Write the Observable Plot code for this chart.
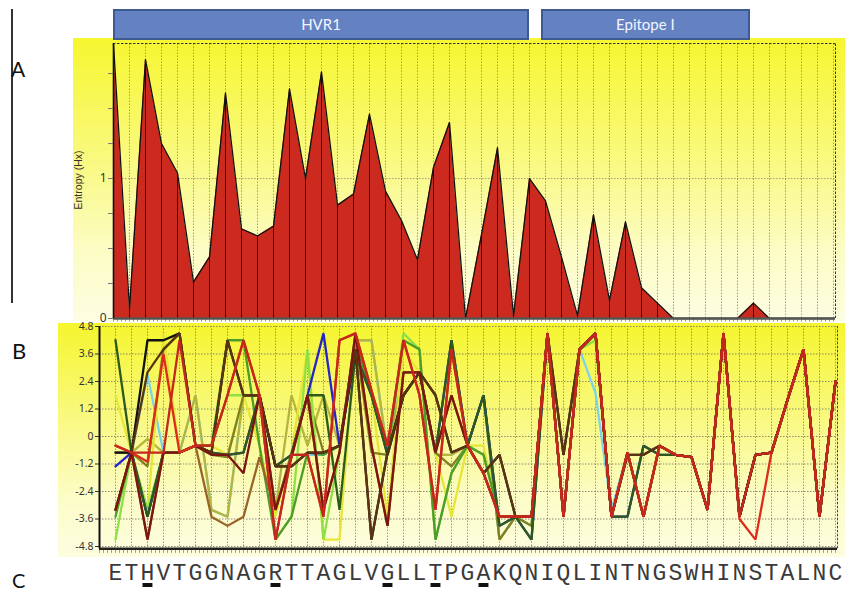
<!DOCTYPE html>
<html><head><meta charset="utf-8">
<script src="https://cdn.jsdelivr.net/npm/d3@7"></script>
<script src="https://cdn.jsdelivr.net/npm/@observablehq/plot@0.6"></script>
<style>
body{margin:0;background:#fff;}
#wrap{position:relative;width:845px;height:594px;overflow:hidden;background:#fff;font-family:"Liberation Sans",Arial,sans-serif;}
.abs{position:absolute;}
.holder svg{display:block;background:transparent;}
.box{position:absolute;top:9px;height:31px;box-sizing:border-box;background:#6482c2;border:2px solid #3e5a92;color:#f2f5ff;font:15px Lato,"Open Sans",sans-serif;text-align:center;line-height:27px;}
.lbl{position:absolute;font-family:Lato,"Open Sans",sans-serif;color:#111;}
</style></head><body>
<div id="wrap">
  <div class="abs" style="left:73px;top:38px;width:772px;height:283px;background:linear-gradient(to bottom,#f6f630 0%,#f9f97a 40%,#fcfcc4 75%,#fdfde2 100%);"></div>
  <div class="abs" style="left:58px;top:323px;width:787px;height:234px;background:linear-gradient(to bottom,#f5f52e 0%,#f9f980 40%,#fcfcc8 75%,#fdfde0 100%);"></div>
  <div class="abs" style="left:11px;top:9px;width:1.5px;height:294px;background:#333;"></div>
  <div class="lbl" style="left:11px;top:56px;font-size:21px;">A</div>
  <div class="lbl" style="left:12px;top:337px;font-size:22px;">B</div>
  <div class="lbl" style="left:12px;top:568px;font-size:20px;">C</div>
  <div class="abs" style="left:38px;top:174px;width:80px;height:12px;line-height:12px;font-size:10.5px;color:#333;text-align:center;transform:rotate(-90deg);white-space:nowrap;">Entropy (Hx)</div>
  <div id="plotA" class="abs holder" style="left:73px;top:0px;"></div>
  <div id="plotB" class="abs holder" style="left:0px;top:320px;"></div>
  <div id="plotC" class="abs holder" style="left:0px;top:556px;"></div>
</div>
<script>
// ---------- data ----------
const residues = ["E","T","H","V","T","G","G","N","A","G","R","T","T","A","G","L","V","G","L","L","T","P","G","A","K","Q","N","I","Q","L","I","N","T","N","G","S","W","H","I","N","S","T","A","L","N","C"];
const entropy = [1.96,0.07,1.85,1.25,1.04,0.26,0.44,1.61,0.64,0.59,0.66,1.64,1.0,1.76,0.81,0.89,1.46,0.91,0.70,0.42,1.08,1.40,0.0,0.60,1.22,0.02,1.0,0.84,0.44,0.02,0.74,0.13,0.69,0.22,0.11,0,0,0,0,0,0.11,0,0,0,0,0];
const underlinedPositions = [2,10,17,20,23];
const regionLabels = ["HVR1","Epitope I"];
const regionStart = [0, 26.75];
const regionEnd = [26, 39.8];
const yTicksA = [0, 1];
const yMinorTicksA = [0,0.25,0.5,0.75,1,1.25,1.5,1.75];
const yTicksB = [-4.8,-3.6,-2.4,-1.2,0,1.2,2.4,3.6,4.8];
const yTickLabelsB = ["-4.8","-3.6","-2.4","-1.2","0","1.2","2.4","3.6","4.8"];

const hydroKhaki = [-0.7,-0.7,-0.1,-0.7,-0.7,1.8,-3.2,-3.5,1.8,1.8,-3.2,1.8,-0.4,1.8,-0.4,4.2,4.2,-0.7,2.8,2.8,-0.8,-0.8,-0.4,1.8,-4.5,-3.5,-3.9,4.5,-3.5,3.8,4.5,-3.5,-0.7,-3.5,-0.4,-0.8,-0.9,-3.2,4.5,-3.5,-0.8,-0.7,1.6,3.8,-3.5,2.4];
const hydroCyan = [-0.7,-0.7,2.7,-0.7,-0.7,1.8,-3.2,-3.5,1.8,1.8,-3.2,-0.8,-0.8,-0.8,-0.4,4.2,4.2,-0.7,2.8,2.8,-0.8,-0.8,-0.4,1.8,-4.5,-3.5,-3.9,4.5,-3.5,3.8,1.9,-3.2,-0.7,-3.5,-0.4,-0.8,-0.9,-3.2,4.5,-3.5,-0.8,-0.7,1.6,3.8,-3.5,2.4];
const hydroYellow = [1.8,-0.7,-3.2,4.5,-0.7,-0.4,-0.4,-0.8,1.8,-0.4,-3.5,-0.7,3.8,-4.5,-4.5,4.2,1.8,-3.5,3.8,2.8,-0.7,-3.5,-0.4,-0.4,-3.5,-3.5,-3.5,4.5,-3.5,3.8,4.5,-3.5,-0.7,-3.5,-0.4,-0.8,-0.9,-3.2,4.5,-3.5,-0.8,-0.7,1.6,3.8,-3.5,2.4];
const hydroOlive = [-0.7,-0.7,-1.3,3.8,4.5,-0.4,-0.8,-0.9,1.8,1.8,-3.2,-0.7,1.8,-0.7,-0.4,4.2,-0.7,-0.8,1.8,2.8,-0.7,-1.3,-0.4,1.8,-4.5,-3.5,-3.9,4.5,-3.5,3.8,4.5,-3.5,-0.7,-3.5,-0.4,-0.8,-0.9,-3.2,4.5,-3.5,-0.8,-0.7,1.6,3.8,-3.5,2.4];
const hydroLightGreen = [-4.5,-0.7,-3.2,-0.7,-0.7,-0.4,-0.4,1.8,1.8,1.8,-4.5,-3.5,3.8,-4.5,-0.7,4.2,1.8,-0.8,4.5,3.8,-4.5,-1.6,-0.4,-0.8,-3.5,-3.5,-3.5,4.5,-3.5,3.8,4.2,-3.5,-0.7,-3.5,-0.4,-0.8,-0.9,-3.2,4.5,-3.5,-0.8,-0.7,1.6,3.8,-3.5,2.4];
const hydroGreen = [-3.5,-0.7,-3.5,-0.7,-0.7,-0.4,-0.4,4.2,4.2,-0.4,-4.5,-3.5,-0.7,-0.8,-0.4,4.2,1.8,-0.7,4.2,3.8,-4.5,-1.6,-0.4,-0.8,-3.5,-3.5,-3.5,4.5,-3.5,3.8,4.5,-3.5,-0.7,-3.5,-0.4,-0.8,-0.9,-3.2,4.5,-3.5,-0.8,-0.7,1.6,3.8,-3.5,2.4];
const hydroBlue = [-1.3,-0.7,-3.5,-0.7,-0.7,-0.4,-0.7,-0.8,-0.7,1.8,-1.3,-0.8,1.8,4.5,-0.4,3.6,1.8,-0.8,1.8,2.8,-0.7,4.2,-0.4,1.8,-3.9,-3.5,-4.5,4.5,-3.5,3.8,4.5,-3.5,-3.5,-0.4,-0.8,-0.8,-0.9,-3.2,4.5,-3.5,-0.8,-0.7,1.6,3.8,-3.5,2.4];
const hydroDarkGreen = [4.2,-0.7,-3.5,-0.7,-0.7,-0.4,-0.7,-0.8,-0.7,1.8,-1.3,-0.8,1.8,1.8,-3.2,3.6,1.8,-0.8,1.8,2.8,-0.7,4.2,-0.4,1.8,-3.9,-3.5,-4.5,4.5,-3.5,3.8,4.5,-3.5,-3.5,-0.4,-0.8,-0.8,-0.9,-3.2,4.5,-3.5,-0.8,-0.7,1.6,3.8,-3.5,2.4];
const hydroBrown = [-3.2,-0.7,-4.5,-0.7,-0.7,-0.4,-3.5,-3.9,-3.5,-0.9,-3.2,-0.9,1.8,-3.2,-0.7,4.5,-0.4,-3.9,2.8,2.8,-0.7,1.8,-0.4,-1.6,-3.5,-3.5,-3.5,4.5,-3.5,3.8,4.5,-3.5,-0.7,-3.5,-0.4,-0.8,-0.9,-3.2,4.5,-3.5,-0.8,-0.7,1.6,3.8,-3.5,2.4];
const hydroBlack = [-0.7,-0.7,4.2,4.2,4.5,-0.4,-0.7,4.2,1.8,1.8,-1.3,-1.3,-0.7,-0.7,-0.4,3.8,-4.5,-0.7,1.8,2.8,1.8,-0.7,-0.4,-1.6,-0.8,-3.5,-3.5,4.5,-0.8,3.8,4.5,-3.5,-0.8,-0.8,-0.4,-0.8,-0.9,-3.2,4.5,-3.5,-0.8,-0.7,1.6,3.8,-3.5,2.4];
const hydroDarkBrown = [-3.2,-0.7,2.8,3.8,4.5,-0.4,-0.7,4.2,1.8,1.8,-1.3,-1.3,-0.7,-0.7,-0.4,3.8,-4.5,-0.7,1.8,2.8,1.8,-0.7,-0.4,-1.6,-0.8,-3.5,-3.5,4.5,-0.8,3.8,4.5,-3.5,-0.8,-0.8,-0.4,-0.8,-0.9,-3.2,4.5,-3.5,-0.8,-0.7,1.6,3.8,-3.5,2.4];
const hydroMaroon = [-3.2,-0.7,-4.5,-0.7,-0.7,-0.4,-0.8,-0.8,-1.6,1.8,-3.2,-0.9,1.8,-3.2,-0.7,4.5,-0.4,-3.9,2.8,2.8,-0.7,1.8,-0.4,-1.6,-3.5,-3.5,-3.5,4.5,-3.5,3.8,4.5,-3.5,-0.7,-3.5,-0.4,-0.8,-0.9,-3.2,4.5,-3.5,-0.8,-0.7,1.6,3.8,-3.5,2.4];
const hydroRed2 = [-0.4,-0.7,-1.1,3.6,-0.7,-0.4,-0.4,1.8,4.2,1.8,-4.5,-0.8,-0.8,-3.5,4.2,4.5,2.0,-0.4,4.2,1.8,-3.2,3.8,-0.4,-1.6,-3.5,-3.5,-3.5,4.5,-3.5,3.8,4.5,-3.5,-0.7,-3.5,-0.4,-0.8,-0.9,-3.2,4.5,-3.6,-4.5,-0.7,1.6,3.8,-3.5,2.4];
const hydroRed = [-0.4,-0.7,-0.7,-0.7,4.2,-0.4,-0.4,1.8,4.2,1.8,-4.5,-0.8,-0.8,-3.5,4.2,4.5,2.0,-0.4,4.2,1.8,-3.2,3.8,-0.4,-1.6,-3.5,-3.5,-3.5,4.5,-3.5,3.8,4.5,-3.5,-0.7,-3.5,-0.4,-0.8,-0.9,-3.2,4.5,-3.5,-0.8,-0.7,1.6,3.8,-3.5,2.4];

// drawing order: first is drawn underneath
const seriesValues = [hydroCyan,hydroKhaki,hydroYellow,hydroOlive,hydroLightGreen,hydroGreen,hydroBlue,hydroDarkGreen,hydroBrown,hydroBlack,hydroDarkBrown,hydroMaroon,hydroRed2,hydroRed];
const seriesColors = ["#7ad4ee","#b5b53e","#e6e636","#808022","#8ee044","#4c9c28","#2424c8","#2c5a18","#9a6428","#111111","#5a3412","#7c1410","#dd2c1c","#c4281c"];

// ---------- helpers ----------
const positions = residues.map((r, i) => i);
const entropyData = residues.map((r, i) => ({i, r, h: entropy[i]}));
const rulerTicks = d3.range(0, 45.01, 0.25);
const dash = "1.5,1.5";

// ---------- panel A ----------
const plotA = Plot.plot({
  width: 772, height: 325, marginLeft: 40, marginRight: 12, marginTop: 43, marginBottom: 7,
  x: {domain: [0, 45], axis: null},
  y: {domain: [0, 1.965], axis: null},
  style: {background: "transparent", overflow: "visible"},
  marks: [
    Plot.ruleX(positions, {x: d => d, y1: 0, y2: 1.965, stroke: "#8a8a70", strokeWidth: 0.8, strokeDasharray: dash}),
    Plot.ruleY([1], {x1: 0, x2: 45.125, stroke: "#8a8a70", strokeWidth: 0.8, strokeDasharray: dash}),
    Plot.areaY(entropyData, {x: "i", y: "h", fill: "#cc2a1e"}),
    Plot.ruleX(entropyData, {x: "i", y1: 0, y2: "h", stroke: "#111", strokeWidth: 1}),
    Plot.lineY(entropyData, {x: "i", y: "h", stroke: "#111", strokeWidth: 1.3}),
    Plot.ruleY([1.965], {x1: 0, x2: 45.125, stroke: "#333", strokeWidth: 1, strokeDasharray: "2.5,1.5"}),
    Plot.ruleX([45.125], {y1: 0, y2: 1.965, stroke: "#333", strokeWidth: 1, strokeDasharray: "2.5,1.5"}),
    Plot.ruleX(rulerTicks, {x: d => d, y1: -0.004, y2: -0.026, stroke: "#777", strokeWidth: 0.7}),
    Plot.ruleY([0], {x1: 0, x2: 45.125, stroke: "#555", strokeWidth: 2.5}),
    Plot.ruleX([0], {y1: 0, y2: 1.965, stroke: "#111", strokeWidth: 1.6}),
    Plot.axisY(yMinorTicksA, {label: null, tickSize: 5, tickPadding: 2, tickFormat: d => yTicksA.includes(d) ? String(d) : "", fontSize: 12, color: "#333", stroke: "#777"})
  ]
});
document.getElementById("plotA").appendChild(plotA);

// region boxes positioned by panel A's x scale
const xA = plotA.scale("x");
regionLabels.forEach((lab, k) => {
  const d = document.createElement("div");
  d.className = "box";
  const x1 = 73 + xA.apply(regionStart[k]);
  const x2 = 73 + xA.apply(regionEnd[k]);
  d.style.left = x1 + "px";
  d.style.width = (x2 - x1) + "px";
  d.textContent = lab;
  document.getElementById("wrap").appendChild(d);
});

// ---------- panel B ----------
const lineMarks = seriesValues.map((vals, k) =>
  Plot.line(vals.map((v, i) => ({i, v})), {x: "i", y: "v", stroke: seriesColors[k], strokeWidth: 2.3, strokeLinejoin: "miter"})
);
const plotB = Plot.plot({
  width: 845, height: 240, marginLeft: 99, marginRight: 10, marginTop: 6, marginBottom: 14,
  x: {domain: [-1, 45], axis: null},
  y: {domain: [-4.8, 4.8], axis: null},
  style: {background: "transparent", overflow: "visible"},
  marks: [
    Plot.ruleX(positions, {x: d => d, y1: -4.8, y2: 4.8, stroke: "#808070", strokeWidth: 0.8, strokeDasharray: dash}),
    Plot.ruleY(yTicksB, {x1: -1, x2: 45.125, stroke: "#707060", strokeWidth: 0.8, strokeDasharray: dash}),
    ...lineMarks,
    Plot.ruleX([45.125], {y1: -4.9, y2: 4.8, stroke: "#444", strokeWidth: 1, strokeDasharray: "2.5,1.5"}),
    Plot.ruleX(d3.range(-1, 45.01, 0.25), {x: d => d, y1: -4.92, y2: -5.1, stroke: "#777", strokeWidth: 0.7}),
    Plot.ruleY([-4.9], {x1: -1, x2: 45.125, stroke: "#222", strokeWidth: 2.5}),
    Plot.ruleX([-1], {y1: -4.9, y2: 4.8, stroke: "#111", strokeWidth: 2}),
    Plot.axisY(yTicksB, {anchor: "left", label: null, tickSize: 4, tickPadding: 2, tickFormat: (d, i) => yTickLabelsB[i], fontSize: 10.5, color: "#333", stroke: "#333"})
  ]
});
document.getElementById("plotB").appendChild(plotB);

// ---------- panel C (sequence) ----------
const plotC = Plot.plot({
  width: 845, height: 38, marginLeft: 99, marginRight: 10, marginTop: 0, marginBottom: 0,
  x: {domain: [-1, 45], axis: null},
  y: {domain: [0, 38], range: [0, 38], axis: null},
  style: {background: "transparent", overflow: "visible"},
  marks: [
    Plot.text(entropyData, {x: "i", y: () => 16.3, text: "r", fontSize: 23, fontFamily: "Liberation Mono, Courier New, monospace", fill: "#3a3a3a", lineAnchor: "middle", textAnchor: "middle"}),
    Plot.rect(underlinedPositions, {x1: d => d - 0.28, x2: d => d + 0.34, y1: 27, y2: 31, fill: "#111"})
  ]
});
document.getElementById("plotC").appendChild(plotC);
</script>
</body></html>
